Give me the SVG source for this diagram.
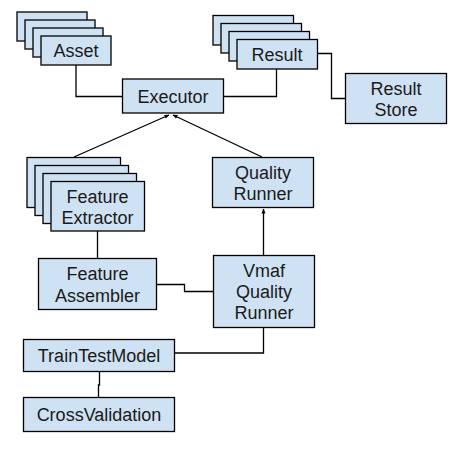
<svg xmlns="http://www.w3.org/2000/svg" width="463" height="449" viewBox="0 0 463 449">
<style>
.n{fill:#cfe2f3;stroke:#000;stroke-width:1.3}
.t{font-family:"Liberation Sans",Arial,sans-serif;font-size:18px;fill:#1a1a1a;text-anchor:middle}
.c{fill:none;stroke:#000;stroke-width:1.3}
</style>
<defs>
<marker id="ah" viewBox="0 0 10 10" refX="9" refY="5" markerWidth="5" markerHeight="5" orient="auto" markerUnits="userSpaceOnUse">
<path d="M0,1 L10,5 L0,9 z" fill="#000"/>
</marker>
</defs>
<rect width="463" height="449" fill="#fff"/>
<g id="connectors">
<polyline class="c" points="76,65 76,96.5 122.5,96.5"/>
<polyline class="c" points="276.5,69 276.5,96.5 223,96.5"/>
<polyline class="c" points="317,53.5 331.5,53.5 331.5,98.5 345.5,98.5"/>
<line class="c" x1="74" y1="157" x2="169" y2="115" marker-end="url(#ah)"/>
<line class="c" x1="262" y1="157" x2="173" y2="115" marker-end="url(#ah)"/>
<line class="c" x1="97.5" y1="231" x2="97.5" y2="258"/>
<polyline class="c" points="156,284.5 184.5,284.5 184.5,291.5 213.5,291.5"/>
<line class="c" x1="263.5" y1="255" x2="263.5" y2="209" marker-end="url(#ah)"/>
<polyline class="c" points="174.5,353 263.5,353 263.5,327"/>
<polyline class="c" points="99.5,371 99.5,385 98.5,385 98.5,397"/>
</g>
<g id="asset">
<rect class="n" x="17" y="12" width="70" height="29"/>
<rect class="n" x="25" y="20" width="70" height="29"/>
<rect class="n" x="33" y="28" width="70" height="29"/>
<rect class="n" x="41" y="36" width="70" height="29"/>
<text class="t" x="76" y="57">Asset</text>
</g>
<g id="result">
<rect class="n" x="213" y="15.5" width="80.5" height="29.5"/>
<rect class="n" x="221" y="23.5" width="80.5" height="29.5"/>
<rect class="n" x="229" y="31.5" width="80.5" height="29.5"/>
<rect class="n" x="237" y="39.5" width="80.5" height="29.5"/>
<text class="t" x="277" y="61">Result</text>
</g>
<g id="executor">
<rect class="n" x="122.5" y="79" width="101" height="34"/>
<text class="t" x="173" y="103">Executor</text>
</g>
<g id="result-store">
<rect class="n" x="345.5" y="73.5" width="101" height="50"/>
<text class="t" x="396" y="95">Result</text>
<text class="t" x="396" y="116">Store</text>
</g>
<g id="feature-extractor">
<rect class="n" x="27" y="157.5" width="93.5" height="50"/>
<rect class="n" x="35" y="165.5" width="93.5" height="50"/>
<rect class="n" x="43" y="173.5" width="93.5" height="50"/>
<rect class="n" x="51" y="181.5" width="93.5" height="49.5"/>
<text class="t" x="97.5" y="203">Feature</text>
<text class="t" x="97.5" y="224">Extractor</text>
</g>
<g id="quality-runner">
<rect class="n" x="212.5" y="157.5" width="101" height="50"/>
<text class="t" x="263" y="179">Quality</text>
<text class="t" x="263" y="200">Runner</text>
</g>
<g id="feature-assembler">
<rect class="n" x="38.5" y="258.5" width="118" height="51"/>
<text class="t" x="97.5" y="280">Feature</text>
<text class="t" x="97.5" y="302">Assembler</text>
</g>
<g id="vmaf-quality-runner">
<rect class="n" x="213.5" y="255.5" width="101" height="72"/>
<text class="t" x="264" y="277">Vmaf</text>
<text class="t" x="264" y="298">Quality</text>
<text class="t" x="264" y="319">Runner</text>
</g>
<g id="train-test-model">
<rect class="n" x="23.5" y="339.5" width="151" height="32"/>
<text class="t" x="99" y="362">TrainTestModel</text>
</g>
<g id="cross-validation">
<rect class="n" x="23.5" y="397.5" width="151" height="34"/>
<text class="t" x="99" y="421">CrossValidation</text>
</g>
</svg>
